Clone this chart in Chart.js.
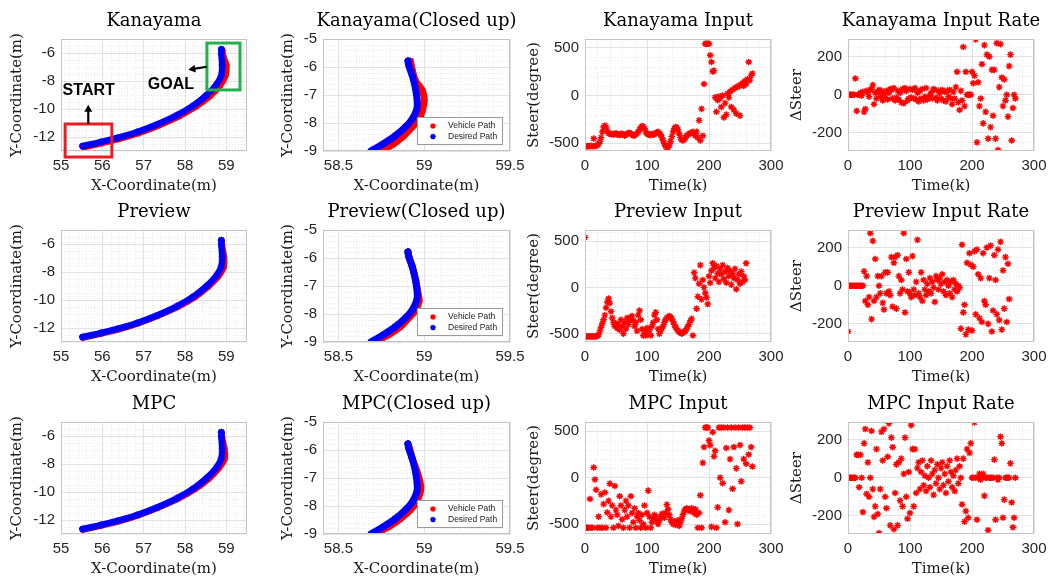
<!DOCTYPE html>
<html>
<head>
<meta charset="utf-8">
<script src="https://cdn.jsdelivr.net/npm/chart.js@4.4.0/dist/chart.umd.min.js"></script>
<style>
  html, body { margin: 0; padding: 0; background: #fff; }
  body { width: 1049px; height: 579px; position: relative; overflow: hidden; }
  canvas { position: absolute; }
</style>
</head>
<body>
<script>
// ---- data ----
const kSteps = [0,2,4,6,8,10,12,14,16,18,20,22,24,26,28,30,32,34,36,38,40,42,44,46,48,50,52,54,56,58,
  60,62,64,66,68,70,72,74,76,78,80,82,84,86,88,90,92,94,96,98,100,102,104,106,108,110,112,114,116,118,
  120,122,124,126,128,130,132,134,136,138,140,142,144,146,148,150,152,154,156,158,160,162,164,166,168,170,172,174,176,178,
  180,182,184,186,188,190,192,194,196,198,200,202,204,206,208,210,212,214,216,218,220,222,224,226,228,230,232,234,236,238,
  240,242,244,246,248,250,252,254,256,258,260,262,264,266,268,270];

// full path (X-Coordinate / Y-Coordinate, m)
const fullDesiredX = [55.52, 55.96, 56.36, 56.84, 57.32, 57.80, 58.20, 58.52, 58.76, 58.88, 58.90, 58.88, 58.88];
const fullDesiredY = [-12.65, -12.36, -12.07, -11.64, -11.10, -10.45, -9.76, -9.02, -8.26, -7.60, -6.88, -6.05, -5.74];
const kanaFullVehX = [55.55, 55.99, 56.40, 56.88, 57.36, 57.85, 58.26, 58.60, 58.85, 58.98, 59.00, 58.93, 58.90];
const kanaFullVehY = [-12.72, -12.43, -12.13, -11.71, -11.17, -10.52, -9.83, -9.08, -8.30, -7.60, -6.88, -6.30, -5.80];
const prevFullVehX = [55.53, 55.97, 56.38, 56.86, 57.34, 57.83, 58.24, 58.56, 58.81, 58.94, 58.94, 58.89, 58.88];
const prevFullVehY = [-12.68, -12.39, -12.10, -11.67, -11.13, -10.48, -9.79, -9.05, -8.28, -7.60, -6.88, -6.05, -5.75];
const mpcFullVehX = [55.53, 55.97, 56.38, 56.86, 57.34, 57.83, 58.24, 58.57, 58.82, 58.96, 58.95, 58.89, 58.88];
const mpcFullVehY = [-12.68, -12.39, -12.10, -11.67, -11.13, -10.48, -9.79, -9.05, -8.28, -7.60, -6.88, -6.05, -5.75];

// closed up path
const cuDesiredX = [58.69, 58.76, 58.83, 58.89, 58.93, 58.955, 58.96, 58.95, 58.93, 58.91, 58.905];
const cuDesiredY = [-9.0, -8.75, -8.46, -8.14, -7.86, -7.54, -7.3, -6.8, -6.3, -5.95, -5.78];
const kanaCuVehX = [58.75, 58.82, 58.88, 58.93, 58.97, 58.99, 59.0, 58.99, 58.95, 58.93, 58.92];
const kanaCuVehY = [-9.0, -8.75, -8.46, -8.14, -7.86, -7.54, -7.2, -6.85, -6.5, -6.1, -5.8];
const prevCuVehX = [58.71, 58.79, 58.86, 58.91, 58.95, 58.97, 58.965, 58.95, 58.93, 58.91, 58.905];
const prevCuVehY = [-9.0, -8.75, -8.46, -8.14, -7.86, -7.54, -7.3, -6.8, -6.3, -5.95, -5.78];
const mpcCuVehX = [58.71, 58.79, 58.86, 58.92, 58.955, 58.975, 58.98, 58.96, 58.93, 58.915, 58.905];
const mpcCuVehY = [-9.0, -8.75, -8.46, -8.14, -7.86, -7.54, -7.3, -6.8, -6.3, -5.95, -5.78];

// steer input (degree) per kSteps
const kanaInput = [-530,-530,-530,-530,-530,-525,-530,-450,-530,-525,
  -520,-505,-480,-440,-380,-330,-315,-330,-370,-395,
  -400,-405,-400,-410,-400,-395,-410,-405,-415,-400,
  -400,-410,-420,-410,-400,-395,-390,-400,-410,-420,
  -415,-405,-395,-380,-360,-335,-320,-325,-345,-380,
  -400,-410,-405,-415,-400,-410,-405,-395,-385,-380,
  -395,-410,-440,-470,-505,-530,-545,-540,-520,-480,
  -430,-380,-345,-330,-335,-360,-400,-440,-465,-470,
  -460,-440,-420,-410,-400,-395,-390,-380,-400,-420,
  -380,-440,-260,-470,-140,-420,120,540,540,540,
  540,420,350,250,260,-20,-170,-50,-10,-30,
  -120,0,-230,-80,-200,20,-20,40,-120,60,
  -150,80,-190,90,100,-210,110,130,100,150,
  120,170,350,160,210,230];
const prevInput = [540,-530,-530,-530,-530,-530,-530,-530,-530,-530,
  -525,-510,-470,-430,-390,-350,-300,-220,-160,-120,
  -170,-260,-330,-380,-420,-390,-440,-400,-460,-350,
  -420,-500,-380,-450,-330,-400,-350,-320,-310,-360,
  -420,-380,-470,-300,-250,-350,-450,-520,-480,-520,
  -440,-500,-460,-520,-420,-380,-300,-270,-350,-450,
  -500,-470,-440,-420,-380,-350,-330,-320,-310,-320,
  -340,-370,-400,-430,-450,-470,-480,-490,-500,-490,
  -480,-470,-450,-420,-400,-360,-340,-520,160,100,
  -230,-100,40,240,-130,80,0,-60,-110,-180,
  120,50,180,260,210,100,230,150,60,200,
  140,240,90,170,50,210,120,180,30,150,
  100,200,-20,80,140,40,170,60,120,80,
  260];
const mpcInput = [-540,-540,-540,-540,-230,-540,-540,110,-20,-130,
  -540,-420,-540,-180,-540,-285,-160,-540,-375,-250,
  -64,-420,-300,-540,-90,-350,-400,-520,-200,-300,
  -450,-540,-350,-250,-420,-300,-540,-200,-380,-480,
  -330,-540,-420,-380,-460,-540,-400,-500,-300,-540,
  -380,-140,-420,-540,-480,-440,-400,-420,-470,-500,
  -460,-420,-390,-400,-430,-380,-290,-340,-400,-450,
  -480,-500,-470,-510,-490,-460,-520,-480,-440,-400,
  -360,-340,-330,-350,-340,-360,-330,-350,-380,-340,
  -400,-540,-380,-190,-540,160,330,540,540,540,
  400,350,-530,490,230,290,-540,-320,540,0,
  540,-60,540,-480,320,540,-350,200,540,-120,
  330,540,100,-500,540,350,-40,540,200,540,
  150,540,250,540,330,120];

// steer rate per kSteps
const kanaRate = [0,0,0,0,0,0,85,-85,0,0,
  10,-5,15,-90,-75,20,10,-10,25,30,
  50,-50,10,-20,15,25,-10,20,-30,5,
  -15,20,-25,10,30,25,-20,35,-30,-15,
  20,-25,10,-40,30,-45,35,20,-30,-20,
  30,-15,25,-20,35,-25,10,-35,20,-20,
  30,-30,-10,35,-25,-15,-5,10,-20,30,
  25,-15,-30,20,10,-20,25,-30,15,-35,
  20,-10,25,-20,-50,15,-20,40,120,-40,
  -80,20,-30,250,-60,120,0,0,0,0,
  120,60,100,290,-250,65,-60,-20,160,-150,
  260,-90,210,-230,200,-170,130,-110,130,-230,
  270,-290,40,265,90,-60,80,-30,0,-115,
  150,210,-240,-70,0,-20];
const prevRate = [-240,0,0,0,0,0,0,0,0,0,
  0,0,0,75,-80,50,-100,-60,275,-175,
  235,-80,140,-60,50,0,-40,50,-90,-125,
  70,-40,70,-30,-50,150,-110,120,150,-120,
  160,50,-40,30,-20,275,-140,140,-30,70,
  -40,-60,155,-20,-50,20,240,-40,-60,70,
  -80,30,-20,-50,10,-30,40,-40,20,-10,
  -85,50,30,-20,40,10,60,-30,20,-50,
  30,0,-40,20,-60,30,-20,10,-30,0,
  -10,-225,215,-140,-100,-255,120,-230,170,110,
  -235,100,180,-150,190,60,-170,40,-190,170,
  -80,-100,200,-200,40,210,-240,-130,160,30,
  -150,190,-180,230,-230,80,-120,150,-190,115,
  -70];
const mpcRate = [0,0,0,0,0,0,0,120,120,-50,
  120,0,-180,180,255,-85,80,-100,0,245,
  -60,-205,-150,150,-190,-290,-60,240,90,255,
  -100,-160,110,285,-250,210,160,-270,-80,70,
  -250,80,-120,100,-150,20,210,-100,-215,30,
  -185,275,150,-150,150,-80,50,80,-60,30,
  90,-40,10,-70,60,0,-50,90,20,-90,
  40,-30,70,0,-60,50,80,-40,20,-80,
  60,-20,90,30,-50,10,-70,40,100,-30,
  60,0,-140,100,-230,-175,150,-210,130,180,
  0,0,290,0,-220,0,20,-10,0,20,
  -95,0,0,-275,0,0,0,0,95,-220,
  0,-10,0,215,180,-210,-115,0,0,0,
  0,75,-130,-260,-210,0];

// tick labels
const fullXTicks = [55, 56, 57, 58, 59];
const fullYTicks = [-12, -10, -8, -6];
const closeXTicks = [58.5, 59, 59.5];
const closeYTicks = [-9, -8, -7, -6, -5];
const timeTicks = [0, 100, 200, 300];
const steerTicks = [-500, 0, 500];
const rateTicks = [-200, 0, 200];

// ---- layout ----
const plotLeft = [61, 323, 585, 848];
const plotWidth = [186, 187, 186, 186];
const plotTop = [39, 230, 422];
const PLOT_H = 112;
const yAxisWidth = [53, 44, 60, 60];
const TITLE_SPACE = 32, X_AXIS_H = 44, RIGHT_PAD = 22;

const SERIF = "'DejaVu Serif', 'Liberation Serif', serif";
const SANS = "'Liberation Sans', Arial, sans-serif";
const RED = '#ff0000', BLUE = '#0000ff';

const pts = (xs, ys) => ys.map((y, i) => ({ x: xs[i], y }));

function drawStar(ctx, x, y, r, color) {
  ctx.save();
  ctx.strokeStyle = color;
  ctx.lineWidth = 1.4;
  ctx.beginPath();
  ctx.moveTo(x - r, y); ctx.lineTo(x + r, y);
  ctx.moveTo(x, y - r); ctx.lineTo(x, y + r);
  const d = r * 0.72;
  ctx.moveTo(x - d, y - d); ctx.lineTo(x + d, y + d);
  ctx.moveTo(x - d, y + d); ctx.lineTo(x + d, y - d);
  ctx.stroke();
  ctx.restore();
}

const minorGrid = {
  id: 'minorGrid',
  beforeDraw(chart) {
    const { ctx, chartArea: a } = chart;
    ctx.save();
    ctx.strokeStyle = '#e8e8e8';
    ctx.lineWidth = 1;
    ctx.setLineDash([1, 2]);
    ['x', 'y'].forEach((id) => {
      const s = chart.scales[id];
      const t = s.ticks.map((tk) => tk.value);
      const step = (t[1] - t[0]) / (s.options.minorCount || 5);
      const start = Math.ceil(s.min / step - 1e-6);
      const end = Math.floor(s.max / step + 1e-6);
      for (let i = start; i <= end; i++) {
        const v = i * step;
        if (t.some((tv) => Math.abs(tv - v) < step * 0.01)) continue;
        const p = Math.round(s.getPixelForValue(v)) + 0.5;
        ctx.beginPath();
        if (id === 'x') { ctx.moveTo(p, a.top); ctx.lineTo(p, a.bottom); }
        else { ctx.moveTo(a.left, p); ctx.lineTo(a.right, p); }
        ctx.stroke();
      }
    });
    ctx.restore();
  }
};

const frame = {
  id: 'frame',
  afterDraw(chart, args, opts) {
    const { ctx, chartArea: a } = chart;
    ctx.save();
    ctx.strokeStyle = '#c4c4c4';
    ctx.lineWidth = 1;
    ctx.strokeRect(Math.round(a.left) + 0.5, Math.round(a.top) + 0.5, Math.round(a.right - a.left) - 1, Math.round(a.bottom - a.top) - 1);
    // title centred on the plot area
    ctx.fillStyle = '#000';
    ctx.font = '18px ' + SERIF;
    ctx.textAlign = 'center';
    ctx.textBaseline = 'middle';
    ctx.fillText(opts.title, (a.left + a.right) / 2, a.top - 18);
    ctx.restore();
  }
};

const insetLegend = {
  id: 'insetLegend',
  afterDraw(chart, args, opts) {
    if (!opts.display) return;
    const { ctx, chartArea: a } = chart;
    const w = 85, h = 27;
    const x = Math.round(a.right - 8 - w), y = Math.round(a.bottom - 7 - h);
    ctx.save();
    ctx.fillStyle = '#fff';
    ctx.fillRect(x, y, w, h);
    ctx.strokeStyle = '#9a9a9a';
    ctx.lineWidth = 1;
    ctx.strokeRect(x + 0.5, y + 0.5, w, h);
    ctx.font = '8.5px ' + SANS;
    ctx.textBaseline = 'middle';
    chart.data.datasets.forEach((ds, i) => {
      const cy = y + 9 + i * 10.5;
      drawStar(ctx, x + 16, cy, 2.8, ds.borderColor);
      ctx.fillStyle = '#222';
      ctx.fillText(ds.label, x + 31, cy);
    });
    ctx.restore();
  }
};

// START / GOAL marks, given in data units of the Kanayama plot
const marks = {
  id: 'marks',
  afterDraw(chart, args, opts) {
    const items = opts.items || [];
    if (!items.length) return;
    const { ctx, scales: { x: sx, y: sy } } = chart;
    const px = (v) => sx.getPixelForValue(v), py = (v) => sy.getPixelForValue(v);
    ctx.save();
    items.forEach((m) => {
      if (m.type === 'rect') {
        ctx.strokeStyle = m.color;
        ctx.lineWidth = 3;
        ctx.strokeRect(px(m.x0), py(m.y0), px(m.x1) - px(m.x0), py(m.y1) - py(m.y0));
      } else if (m.type === 'text') {
        ctx.fillStyle = '#000';
        ctx.font = 'bold 16px ' + SANS;
        ctx.textAlign = 'center';
        ctx.textBaseline = 'middle';
        ctx.fillText(m.text, px(m.x), py(m.y));
      } else if (m.type === 'arrow') {
        const x0 = px(m.x0), y0 = py(m.y0), x1 = px(m.x1), y1 = py(m.y1);
        const ang = Math.atan2(y1 - y0, x1 - x0);
        ctx.strokeStyle = '#000';
        ctx.fillStyle = '#000';
        ctx.lineWidth = 2.2;
        ctx.beginPath();
        ctx.moveTo(x0, y0);
        ctx.lineTo(x1 - 4 * Math.cos(ang), y1 - 4 * Math.sin(ang));
        ctx.stroke();
        ctx.beginPath();
        ctx.moveTo(x1, y1);
        ctx.lineTo(x1 - 7 * Math.cos(ang) + 4 * Math.sin(ang), y1 - 7 * Math.sin(ang) - 4 * Math.cos(ang));
        ctx.lineTo(x1 - 7 * Math.cos(ang) - 4 * Math.sin(ang), y1 - 7 * Math.sin(ang) + 4 * Math.cos(ang));
        ctx.closePath();
        ctx.fill();
      }
    });
    ctx.restore();
  }
};

const kanaMarks = [
  { type: 'rect', x0: 55.10, y0: -11.07, x1: 56.23, y1: -13.43, color: '#ed1c24' },
  { type: 'rect', x0: 58.53, y0: -5.29, x1: 59.33, y1: -8.64, color: '#22b14c' },
  { type: 'arrow', x0: 55.66, y0: -11.07, x1: 55.66, y1: -9.70 },
  { type: 'arrow', x0: 58.53, y0: -6.98, x1: 58.08, y1: -7.20 },
  { type: 'text', text: 'START', x: 55.67, y: -8.71 },
  { type: 'text', text: 'GOAL', x: 57.66, y: -8.25 }
];

function axis(id, a, W) {
  return {
    type: 'linear',
    position: id === 'x' ? 'bottom' : 'left',
    min: a.min,
    max: a.max,
    minorCount: a.minor || 5,
    afterBuildTicks: (s) => { s.ticks = a.ticks.map((v) => ({ value: v })); },
    afterFit: (s) => { if (id === 'x') s.height = X_AXIS_H; else s.width = W; },
    grid: { color: '#e2e2e2', lineWidth: 1, drawTicks: false },
    border: { display: false },
    ticks: {
      padding: 6, color: '#262626', autoSkip: false, maxRotation: 0,
      font: { family: SANS, size: 15 },
      callback: (v) => String(v)
    },
    title: {
      display: true, text: a.title, color: '#1a1a1a', padding: 0,
      font: { family: SERIF, size: 15, lineHeight: 1.2 }
    }
  };
}

function makeChart(row, col, title, datasets, xAxis, yAxis, extra) {
  const W = yAxisWidth[col];
  const canvas = document.createElement('canvas');
  canvas.width = W + plotWidth[col] + RIGHT_PAD;
  canvas.height = TITLE_SPACE + PLOT_H + X_AXIS_H;
  canvas.style.left = (plotLeft[col] - W) + 'px';
  canvas.style.top = (plotTop[row] - TITLE_SPACE) + 'px';
  document.body.appendChild(canvas);
  return new Chart(canvas, {
    type: 'scatter',
    data: { datasets },
    options: {
      responsive: false,
      animation: false,
      events: [],
      layout: { padding: { top: TITLE_SPACE, right: RIGHT_PAD, left: 0, bottom: 0 } },
      plugins: {
        legend: { display: false },
        tooltip: { enabled: false },
        frame: { title },
        insetLegend: { display: !!(extra && extra.legend) },
        marks: { items: (extra && extra.marks) || [] }
      },
      scales: { x: axis('x', xAxis, W), y: axis('y', yAxis, W) }
    },
    plugins: [minorGrid, frame, insetLegend, marks]
  });
}

function pathSets(vx, vy, dx, dy, width) {
  const common = {
    showLine: true, borderWidth: width, tension: 0.35,
    borderCapStyle: 'round', borderJoinStyle: 'round',
    pointStyle: 'star', pointRadius: 3.5, pointBorderWidth: 1.5
  };
  return [
    { ...common, label: 'Vehicle Path', data: pts(vx, vy), borderColor: RED, backgroundColor: RED, order: 2 },
    { ...common, label: 'Desired Path', data: pts(dx, dy), borderColor: BLUE, backgroundColor: BLUE, order: 1 }
  ];
}

function dotSet(values) {
  return [{
    data: pts(kSteps, values), showLine: false,
    pointStyle: 'star', pointRadius: 3.3, borderWidth: 1.4,
    borderColor: RED, backgroundColor: RED
  }];
}

const fullX = { min: 55, max: 59.5, ticks: fullXTicks, title: 'X-Coordinate(m)' };
const fullY = { min: -13, max: -5, ticks: fullYTicks, minor: 4, title: 'Y-Coordinate(m)' };
const closeX = { min: 58.41, max: 59.5, ticks: closeXTicks, title: 'X-Coordinate(m)' };
const closeY = { min: -9, max: -5, ticks: closeYTicks, title: 'Y-Coordinate(m)' };
const timeX = { min: 0, max: 300, ticks: timeTicks, title: 'Time(k)' };
const rateY = { min: -295, max: 292, ticks: rateTicks, minor: 4, title: '\u0394Steer' };

const rows = [
  { name: 'Kanayama', full: [kanaFullVehX, kanaFullVehY], cu: [kanaCuVehX, kanaCuVehY], input: kanaInput, rate: kanaRate, steerRange: [-580, 590], marks: kanaMarks },
  { name: 'Preview', full: [prevFullVehX, prevFullVehY], cu: [prevCuVehX, prevCuVehY], input: prevInput, rate: prevRate, steerRange: [-590, 620] },
  { name: 'MPC', full: [mpcFullVehX, mpcFullVehY], cu: [mpcCuVehX, mpcCuVehY], input: mpcInput, rate: mpcRate, steerRange: [-607, 600] }
];

rows.forEach((r, i) => {
  makeChart(i, 0, r.name, pathSets(r.full[0], r.full[1], fullDesiredX, fullDesiredY, 6.5), fullX, fullY, { marks: r.marks });
  makeChart(i, 1, r.name + '(Closed up)', pathSets(r.cu[0], r.cu[1], cuDesiredX, cuDesiredY, 7), closeX, closeY, { legend: true });
  makeChart(i, 2, r.name + ' Input', dotSet(r.input), timeX,
    { min: r.steerRange[0], max: r.steerRange[1], ticks: steerTicks, title: 'Steer(degree)' });
  makeChart(i, 3, r.name + ' Input Rate', dotSet(r.rate), timeX, rateY);
});
</script>
</body>
</html>
